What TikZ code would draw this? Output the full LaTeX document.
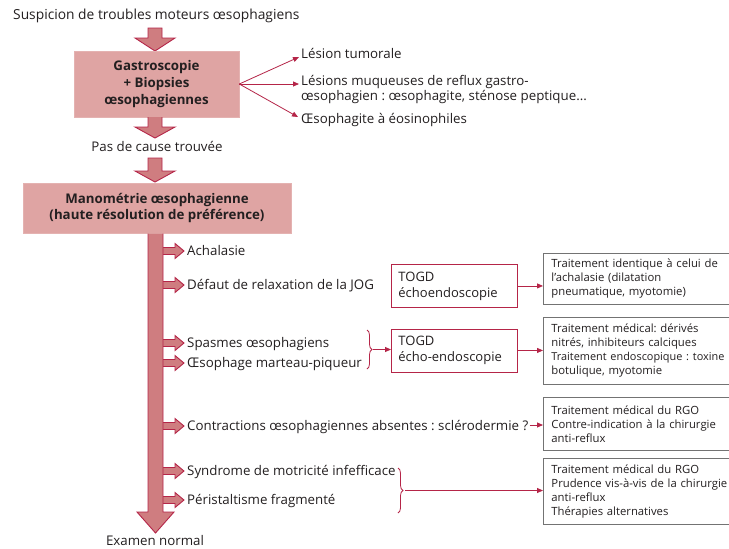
\documentclass[tikz,border=0pt]{standalone}
\usepackage{fontspec}
\setmainfont{Open Sans}
\frenchspacing
\usetikzlibrary{arrows.meta,decorations.pathreplacing}
\definecolor{crim}{RGB}{181,37,72}
\definecolor{boxpink}{RGB}{223,164,163}
\definecolor{arrpink}{RGB}{207,125,128}
\definecolor{txt}{RGB}{35,31,32}
\definecolor{gbord}{RGB}{115,115,115}
\newcommand\sarr[1]{\draw[blockarr] (163,#1-3.5) -- (175,#1-3.5) -- (175,#1-7.5) -- (184,#1) -- (175,#1+7.5) -- (175,#1+3.5) -- (163,#1+3.5);}
\begin{document}
\begin{tikzpicture}[x=1pt,y=-1pt,
  every node/.style={text=txt,inner sep=0pt},
  lbl/.style={anchor=west,font=\fontsize{13.3}{15}\selectfont,text height=9.5pt,text depth=2.5pt},
  bigbox/.style={fill=boxpink,draw=boxpink!85!white,line width=0.6pt,align=center,font=\fontsize{13.3}{16.7}\selectfont\bfseries},
  blockarr/.style={fill=arrpink,draw=crim,line width=0.9pt,line join=miter},
  thinarr/.style={draw=crim,line width=0.8pt,-{Triangle[length=6pt,width=5pt]}},
  togd/.style={draw=crim,line width=0.9pt,fill=white,anchor=north west,minimum height=43pt,text width=112pt,inner xsep=7pt,align=left,font=\fontsize{13}{16}\selectfont},
  res/.style={draw=gbord,line width=0.9pt,fill=white,anchor=north west,text width=190pt,inner xsep=8pt,align=left,font=\fontsize{11.3}{14}\selectfont},
  brc/.style={draw=crim,line width=0.8pt,decorate,decoration={brace,amplitude=5pt}}
]
\useasboundingbox[fill=white] (0,0) rectangle (729,549);

% top part
\node[lbl,font=\fontsize{13.8}{15}\selectfont] (title) at (13,16) {Suspicion de troubles moteurs œsophagiens};
\draw[blockarr] (148,28) -- (148,38) -- (135,38) -- (155,51) -- (175,38) -- (162,38) -- (162,28) -- cycle;
\node[bigbox,minimum width=165pt,minimum height=66pt] (gastro) at (156.5,84) {Gastroscopie\\+ Biopsies\\œsophagiennes};

\node[lbl] (l1) at (301,55) {Lésion tumorale};
\node[lbl,align=left,text height=,text depth=] (l2) at (301,89.5) {Lésions muqueuses de reflux gastro-\\œsophagien : œsophagite, sténose peptique...};
\node[lbl] (l3) at (301,120) {Œsophagite à éosinophiles};
\draw[thinarr] (gastro.east) -- ([xshift=-2pt,yshift=-2pt]l1.west);
\draw[thinarr] (gastro.east) -- ([xshift=-2pt]gastro.east -| l2.west);
\draw[thinarr] (gastro.east) -- ([xshift=-3pt,yshift=3pt]l3.west);

\draw[blockarr] (148,117) -- (148,127) -- (135,127) -- (155,138) -- (175,127) -- (162,127) -- (162,117);
\node[lbl,anchor=center] (pas) at (157,148) {Pas de cause trouvée};
\draw[blockarr] (148,158) -- (148,171) -- (135,171) -- (155,182) -- (175,171) -- (162,171) -- (162,158) -- cycle;

\node[bigbox,minimum width=268pt,minimum height=50pt] (mano) at (157,208) {Manométrie œsophagienne\\(haute résolution de préférence)};

% small branch arrows
\sarr{251}
\sarr{285}
\sarr{343}
\sarr{363}
\sarr{426}
\sarr{471}
\sarr{500}
% main shaft
\draw[blockarr] (148,233.5) -- (148,512) -- (137,512) -- (155.5,533) -- (174,512) -- (163,512) -- (163,233.5);

\node[lbl] (achal) at (187,252) {Achalasie};
\node[lbl] (defaut) at (187,286) {Défaut de relaxation de la JOG};
\node[lbl] (spasm) at (187,344) {Spasmes œsophagiens};
\node[lbl] (marteau) at (187,364) {Œsophage marteau-piqueur};
\node[lbl] (contr) at (187,427) {Contractions œsophagiennes absentes : sclérodermie ?};
\node[lbl] (synd) at (187,472) {Syndrome de motricité infefficace};
\node[lbl] (peri) at (187,501) {Péristaltisme fragmenté};
\node[lbl,anchor=center] (examen) at (155,541.5) {Examen normal};

% TOGD boxes
\node[togd] (togd1) at (391,264) {TOGD\\échoendoscopie};
\node[togd] (togd2) at (391,328.5) {TOGD\\écho-endoscopie};

% result boxes
\node[res,minimum height=51pt] (r1) at (543,253) {Traitement identique à celui de\\l’achalasie (dilatation\\pneumatique, myotomie)};
\node[res,minimum height=67pt] (r2) at (543,317) {Traitement médical: dérivés\\nitrés, inhibiteurs calciques\\{\fontsize{10.9}{14}\selectfont Traitement endoscopique : toxine}\\botulique, myotomie};
\node[res,minimum height=53pt] (r3) at (543,397) {Traitement médical du RGO\\Contre-indication à la chirurgie\\anti-reflux};
\node[res,minimum height=66pt] (r4) at (543,458) {Traitement médical du RGO\\Prudence vis-à-vis de la chirurgie\\anti-reflux\\Thérapies alternatives};

% connectors
\draw[thinarr] (togd1.east) -- (togd1.east -| r1.west);
\draw[thinarr] (togd2.east) -- (togd2.east -| r2.west);
\draw[thinarr] ([xshift=1pt,yshift=2pt]contr.east) -- ([yshift=2pt]contr.east -| r3.west);

\coordinate (b1t) at (367,330);
\coordinate (b1b) at (367,369);
\draw[brc] (b1t) -- (b1b);
\coordinate (b1m) at (373,349.5);
\draw[thinarr] (b1m) -- (b1m -| togd2.west);

\coordinate (b2t) at (398,468);
\coordinate (b2b) at (398,513);
\draw[brc] (b2t) -- (b2b);
\coordinate (b2m) at (405,490.5);
\draw[thinarr] (b2m) -- (b2m -| r4.west);
\end{tikzpicture}
\end{document}
